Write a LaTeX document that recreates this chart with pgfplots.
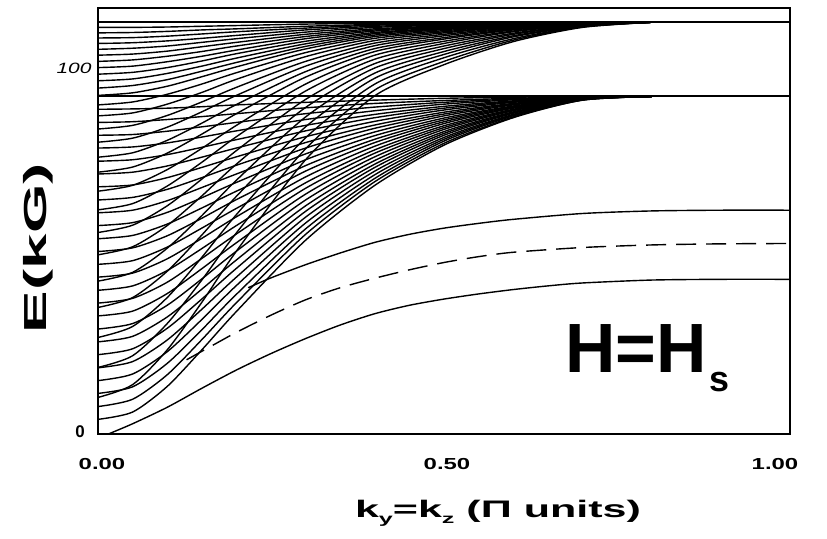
\documentclass[border=0pt]{standalone}
\usepackage{pgfplots}
\pgfplotsset{compat=1.18}
\usepackage{graphicx}
\usepackage{fontspec}
\setmainfont{Liberation Sans}

% spin-wave branches, E (kG) against k_y = k_z
\pgfplotsset{
  mode/.style={black, line width=1.4bp, smooth, tension=0.45},
}

\begin{document}
\begin{tikzpicture}
\path (-98bp,-105bp) rectangle (729bp,434bp);
\begin{axis}[
  at={(0,0)}, anchor=south west,
  width=692bp, height=426bp, scale only axis,
  xmin=0, xmax=1, ymin=0, ymax=116.5,
  xtick=\empty, ytick=\empty,
  minor xtick={0.25,0.5,0.75},
  xtick pos=bottom, tick align=inside,
  minor tick length=5bp,
  axis line style={line width=1.6bp},
  every minor tick/.style={line width=1bp, black},
]
% upper and lower band limits
\addplot[black, line width=2bp] coordinates {(0,112.6) (1,112.6)};
\addplot[black, line width=2bp] coordinates {(0,92.3) (1,92.3)};

% lower band (A)
\addplot[mode] coordinates {(0,88.8) (0.05,88.9) (0.1,89.1) (0.15,89.5) (0.2,90.0) (0.3,90.7) (0.4,91.3) (0.5,91.8) (0.6,92.1) (0.7,92.3) (0.8,92.3)};
\addplot[mode] coordinates {(0,85.2) (0.05,85.4) (0.1,86.0) (0.15,86.8) (0.2,87.6) (0.3,89.2) (0.4,90.4) (0.5,91.2) (0.6,91.8) (0.7,92.2) (0.8,92.3)};
\addplot[mode] coordinates {(0,81.7) (0.05,81.9) (0.1,82.8) (0.15,84.0) (0.2,85.2) (0.3,87.6) (0.4,89.4) (0.5,90.7) (0.6,91.6) (0.7,92.2) (0.8,92.3)};
\addplot[mode] coordinates {(0,78.2) (0.05,78.5) (0.1,79.6) (0.15,81.2) (0.2,82.9) (0.3,86.0) (0.4,88.4) (0.5,90.2) (0.6,91.4) (0.7,92.1) (0.8,92.3)};
\addplot[mode] coordinates {(0,74.6) (0.05,75.0) (0.1,76.4) (0.15,78.4) (0.2,80.5) (0.3,84.4) (0.4,87.4) (0.5,89.6) (0.6,91.1) (0.7,92.1) (0.8,92.3)};
\addplot[mode] coordinates {(0,71.1) (0.05,71.6) (0.1,73.3) (0.15,75.7) (0.2,78.2) (0.3,82.9) (0.4,86.5) (0.5,89.1) (0.6,90.9) (0.7,92.1) (0.8,92.3)};
\addplot[mode] coordinates {(0,67.6) (0.05,68.1) (0.1,70.1) (0.15,72.9) (0.2,75.8) (0.3,81.3) (0.4,85.5) (0.5,88.6) (0.6,90.7) (0.7,92.0) (0.8,92.3)};
\addplot[mode] coordinates {(0,64.0) (0.05,64.7) (0.1,66.9) (0.15,70.1) (0.2,73.5) (0.3,79.7) (0.4,84.5) (0.5,88.0) (0.6,90.4) (0.7,92.0) (0.8,92.3)};
\addplot[mode] coordinates {(0,60.5) (0.05,61.2) (0.1,63.8) (0.15,67.4) (0.2,71.1) (0.3,78.2) (0.4,83.6) (0.5,87.5) (0.6,90.2) (0.7,91.9) (0.8,92.3)};
\addplot[mode] coordinates {(0,57.0) (0.05,57.8) (0.1,60.6) (0.15,64.6) (0.2,68.8) (0.3,76.6) (0.4,82.6) (0.5,87.0) (0.6,90.0) (0.7,91.9) (0.8,92.3)};
\addplot[mode] coordinates {(0,53.4) (0.05,54.3) (0.1,57.4) (0.15,61.8) (0.2,66.4) (0.3,75.0) (0.4,81.6) (0.5,86.4) (0.6,89.7) (0.7,91.9) (0.8,92.3)};
\addplot[mode] coordinates {(0,49.9) (0.05,50.9) (0.1,54.2) (0.15,59.0) (0.2,64.1) (0.3,73.4) (0.4,80.6) (0.5,85.9) (0.6,89.5) (0.7,91.8) (0.8,92.3)};
\addplot[mode] coordinates {(0,46.4) (0.05,47.4) (0.1,51.1) (0.15,56.3) (0.2,61.7) (0.3,71.9) (0.4,79.7) (0.5,85.4) (0.6,89.3) (0.7,91.8) (0.8,92.3)};
\addplot[mode] coordinates {(0,42.9) (0.05,44.0) (0.1,47.9) (0.15,53.5) (0.2,59.4) (0.3,70.3) (0.4,78.7) (0.5,84.9) (0.6,89.1) (0.7,91.7) (0.8,92.3)};
\addplot[mode] coordinates {(0,39.3) (0.05,40.5) (0.1,44.7) (0.15,50.7) (0.2,57.0) (0.3,68.7) (0.4,77.7) (0.5,84.3) (0.6,88.8) (0.7,91.7) (0.8,92.3)};
\addplot[mode] coordinates {(0,35.8) (0.05,37.1) (0.1,41.5) (0.15,48.0) (0.2,54.7) (0.3,67.2) (0.4,76.8) (0.5,83.8) (0.6,88.6) (0.7,91.7) (0.8,92.3)};
\addplot[mode] coordinates {(0,32.3) (0.05,33.6) (0.1,38.4) (0.15,45.2) (0.2,52.3) (0.3,65.6) (0.4,75.8) (0.5,83.3) (0.6,88.4) (0.7,91.6) (0.8,92.3)};
\addplot[mode] coordinates {(0,28.7) (0.05,30.2) (0.1,35.2) (0.15,42.4) (0.2,50.0) (0.3,64.0) (0.4,74.8) (0.5,82.7) (0.6,88.1) (0.7,91.6) (0.8,92.3)};
\addplot[mode] coordinates {(0,25.2) (0.05,26.7) (0.1,32.0) (0.15,39.6) (0.2,47.6) (0.3,62.4) (0.4,73.8) (0.5,82.2) (0.6,87.9) (0.7,91.5) (0.8,92.3)};
\addplot[mode] coordinates {(0,21.7) (0.05,23.3) (0.1,28.9) (0.15,36.9) (0.2,45.3) (0.3,60.9) (0.4,72.9) (0.5,81.7) (0.6,87.7) (0.7,91.5) (0.8,92.3)};
\addplot[mode] coordinates {(0,18.1) (0.05,19.8) (0.1,25.7) (0.15,34.1) (0.2,42.9) (0.3,59.3) (0.4,71.9) (0.5,81.1) (0.6,87.4) (0.7,91.5) (0.8,92.3)};
\addplot[mode] coordinates {(0,14.6) (0.05,16.4) (0.1,22.5) (0.15,31.3) (0.2,40.6) (0.3,57.7) (0.4,70.9) (0.5,80.6) (0.6,87.2) (0.7,91.4) (0.8,92.3)};
\addplot[mode] coordinates {(0,11.1) (0.05,12.9) (0.1,19.3) (0.15,28.5) (0.2,38.2) (0.3,56.1) (0.4,69.9) (0.5,80.1) (0.6,87.0) (0.7,91.4) (0.8,92.3)};
\addplot[mode] coordinates {(0,7.5) (0.05,9.5) (0.1,16.2) (0.15,25.8) (0.2,35.9) (0.3,54.6) (0.4,69.0) (0.5,79.5) (0.6,86.7) (0.7,91.3) (0.8,92.3)};
\addplot[mode] coordinates {(0,4.0) (0.05,6.0) (0.1,13.0) (0.15,23.0) (0.2,33.5) (0.3,53.0) (0.4,68.0) (0.5,79.0) (0.6,86.5) (0.7,91.3) (0.8,92.3)};

% upper band (B)
\addplot[mode] coordinates {(0,111.2) (0.05,111.2) (0.1,111.3) (0.15,111.5) (0.2,111.7) (0.3,112.1) (0.4,112.3) (0.5,112.4) (0.6,112.5) (0.7,112.6) (0.8,112.6)};
\addplot[mode] coordinates {(0,109.7) (0.05,109.8) (0.1,110.1) (0.15,110.5) (0.2,110.8) (0.3,111.5) (0.4,112.0) (0.5,112.3) (0.6,112.5) (0.7,112.6) (0.8,112.6)};
\addplot[mode] coordinates {(0,108.3) (0.05,108.4) (0.1,108.8) (0.15,109.4) (0.2,110.0) (0.3,111.0) (0.4,111.8) (0.5,112.1) (0.6,112.4) (0.7,112.5) (0.8,112.6)};
\addplot[mode] coordinates {(0,106.8) (0.05,107.0) (0.1,107.5) (0.15,108.2) (0.2,109.0) (0.3,110.5) (0.4,111.5) (0.5,111.9) (0.6,112.3) (0.7,112.5) (0.8,112.6)};
\addplot[mode] coordinates {(0,105.2) (0.05,105.5) (0.1,106.1) (0.15,107.1) (0.2,108.1) (0.3,109.9) (0.4,111.2) (0.5,111.8) (0.6,112.2) (0.7,112.5) (0.8,112.6)};
\addplot[mode] coordinates {(0,103.6) (0.05,103.9) (0.1,104.7) (0.15,105.9) (0.2,107.1) (0.3,109.3) (0.4,110.8) (0.5,111.6) (0.6,112.1) (0.7,112.5) (0.8,112.6)};
\addplot[mode] coordinates {(0,101.9) (0.05,102.3) (0.1,103.3) (0.15,104.6) (0.2,106.1) (0.3,108.7) (0.4,110.5) (0.5,111.4) (0.6,112.0) (0.7,112.5) (0.8,112.6)};
\addplot[mode] coordinates {(0,100.2) (0.05,100.6) (0.1,101.8) (0.15,103.3) (0.2,105.0) (0.3,108.1) (0.4,110.2) (0.5,111.2) (0.6,112.0) (0.7,112.4) (0.8,112.6)};
\addplot[mode] coordinates {(0,98.4) (0.05,98.9) (0.1,100.2) (0.15,102.0) (0.2,104.0) (0.3,107.4) (0.4,109.8) (0.5,111.0) (0.6,111.9) (0.7,112.4) (0.8,112.6)};
\addplot[mode] coordinates {(0,96.6) (0.05,97.1) (0.1,98.6) (0.15,100.6) (0.2,102.8) (0.3,106.7) (0.4,109.5) (0.5,110.8) (0.6,111.8) (0.7,112.4) (0.8,112.6)};
\addplot[mode] coordinates {(0,94.6) (0.05,95.3) (0.1,96.9) (0.15,99.2) (0.2,101.6) (0.3,106.0) (0.4,109.1) (0.5,110.6) (0.6,111.7) (0.7,112.4) (0.8,112.6)};
\addplot[mode] coordinates {(0,92.6) (0.05,93.3) (0.1,95.1) (0.15,97.7) (0.2,100.4) (0.3,105.3) (0.4,108.7) (0.5,110.3) (0.6,111.6) (0.7,112.3) (0.8,112.6)};
\addplot[mode] coordinates {(0,90.0) (0.05,90.8) (0.1,92.9) (0.15,95.7) (0.2,98.8) (0.3,104.3) (0.4,108.2) (0.5,110.0) (0.6,111.4) (0.7,112.3) (0.8,112.6)};
\addplot[mode] coordinates {(0,87.0) (0.05,87.8) (0.1,90.2) (0.15,93.4) (0.2,97.0) (0.3,103.2) (0.4,107.6) (0.5,109.7) (0.6,111.3) (0.7,112.2) (0.8,112.6)};
\addplot[mode] coordinates {(0,83.4) (0.05,84.4) (0.1,87.1) (0.15,90.8) (0.2,94.8) (0.3,101.9) (0.4,106.9) (0.5,109.3) (0.6,111.1) (0.7,112.2) (0.8,112.6)};
\addplot[mode] coordinates {(0,79.8) (0.05,80.9) (0.1,83.9) (0.15,88.1) (0.2,92.6) (0.3,100.6) (0.4,106.2) (0.5,108.9) (0.6,110.9) (0.7,112.2) (0.8,112.6)};
\addplot[mode] coordinates {(0,75.7) (0.05,76.9) (0.1,80.3) (0.15,85.0) (0.2,90.1) (0.3,99.1) (0.4,105.4) (0.5,108.4) (0.6,110.7) (0.7,112.1) (0.8,112.6)};
\addplot[mode] coordinates {(0,71.6) (0.05,73.0) (0.1,76.8) (0.15,82.0) (0.2,87.6) (0.3,97.6) (0.4,104.6) (0.5,108.0) (0.6,110.5) (0.7,112.0) (0.8,112.6)};
\addplot[mode] coordinates {(0,66.4) (0.05,68.0) (0.1,72.3) (0.15,78.1) (0.2,84.4) (0.3,95.7) (0.4,103.6) (0.5,107.4) (0.6,110.2) (0.7,112.0) (0.8,112.6)};
\addplot[mode] coordinates {(0,61.3) (0.05,63.0) (0.1,67.8) (0.15,74.3) (0.2,81.3) (0.3,93.8) (0.4,102.5) (0.5,106.8) (0.6,110.0) (0.7,111.9) (0.8,112.6)};
\addplot[mode] coordinates {(0,55.1) (0.05,57.1) (0.1,62.4) (0.15,69.7) (0.2,77.5) (0.3,91.5) (0.4,101.3) (0.5,106.1) (0.6,109.6) (0.7,111.8) (0.8,112.6)};
\addplot[mode] coordinates {(0,49.0) (0.05,51.2) (0.1,57.0) (0.15,65.1) (0.2,73.8) (0.3,89.3) (0.4,100.1) (0.5,105.4) (0.6,109.3) (0.7,111.7) (0.8,112.6)};
\addplot[mode] coordinates {(0,41.8) (0.05,44.2) (0.1,50.8) (0.15,59.7) (0.2,69.4) (0.3,86.7) (0.4,98.7) (0.5,104.6) (0.6,108.9) (0.7,111.6) (0.8,112.6)};
\addplot[mode] coordinates {(0,34.6) (0.05,37.3) (0.1,44.5) (0.15,54.4) (0.2,65.0) (0.3,84.0) (0.4,97.3) (0.5,103.8) (0.6,108.6) (0.7,111.5) (0.8,112.6)};
\addplot[mode] coordinates {(0,26.4) (0.05,29.4) (0.1,37.3) (0.15,48.3) (0.2,60.0) (0.3,81.0) (0.4,95.7) (0.5,102.9) (0.6,108.1) (0.7,111.4) (0.8,112.6)};
\addplot[mode] coordinates {(0,18.2) (0.05,21.4) (0.1,30.2) (0.15,42.1) (0.2,55.0) (0.3,78.0) (0.4,94.1) (0.5,101.9) (0.6,107.7) (0.7,111.3) (0.8,112.6)};
\addplot[mode] coordinates {(0,10.0) (0.05,13.5) (0.1,23.0) (0.15,36.0) (0.2,50.0) (0.3,75.0) (0.4,92.5) (0.5,101.0) (0.6,107.3) (0.7,111.2) (0.8,112.6)};

% isolated branches below the bands
\addplot[mode] coordinates {(0.217,40.0) (0.25,42.7) (0.3,46.3) (0.35,49.5) (0.4,52.4) (0.45,54.6) (0.5,56.3) (0.55,57.6) (0.6,58.7) (0.7,60.3) (0.8,61.0) (0.9,61.2) (1.0,61.2)};
\addplot[mode, dash pattern=on 20bp off 10bp] coordinates {(0.128,20.3) (0.17,24.7) (0.2,27.8) (0.25,32.5) (0.3,36.7) (0.35,40.0) (0.4,42.6) (0.45,44.9) (0.5,46.9) (0.55,48.5) (0.6,49.7) (0.7,51.0) (0.8,51.7) (0.9,52.0) (1.0,52.1)};
\addplot[mode] coordinates {(0.015,0) (0.05,2.8) (0.1,7.3) (0.15,12.5) (0.2,17.5) (0.25,22.0) (0.3,26.1) (0.35,29.8) (0.4,32.9) (0.45,35.2) (0.5,36.9) (0.55,38.3) (0.6,39.5) (0.65,40.5) (0.7,41.3) (0.8,42.1) (0.9,42.3) (1.0,42.3)};
\end{axis}

% tick labels
\node[font=\bfseries\fontsize{16}{16}\selectfont] at (4bp,-30bp) {\scalebox{1.5}[1]{0.00}};
\node[font=\bfseries\fontsize{16}{16}\selectfont] at (349bp,-30bp) {\scalebox{1.5}[1]{0.50}};
\node[font=\bfseries\fontsize{16}{16}\selectfont] at (677bp,-30bp) {\scalebox{1.5}[1]{1.00}};
\node[anchor=east, font=\itshape\fontsize{15}{15}\selectfont] at (-3bp,366bp) {\scalebox{1.4}[1]{100}};
\node[font=\bfseries\fontsize{17}{17}\selectfont] at (-18bp,2bp) {0};

% axis titles
\node[rotate=90] at (-60bp,186bp) {\scalebox{2}[1]{\fontsize{32}{32}\selectfont\bfseries E(kG)}};
\node at (400bp,-79bp) {\scalebox{1.8}[1]{\fontsize{24}{24}\selectfont\bfseries k\raisebox{-6bp}{\fontsize{14}{14}\selectfont y}=k\raisebox{-6bp}{\fontsize{14}{14}\selectfont z} (Π units)}};

% field label
\node[anchor=base west, inner sep=0pt] at (467bp,61bp) {\fontsize{70}{70}\selectfont\bfseries H=H\hspace{3bp}\raisebox{-19bp}{\fontsize{36}{36}\selectfont s}};
\end{tikzpicture}
\end{document}
